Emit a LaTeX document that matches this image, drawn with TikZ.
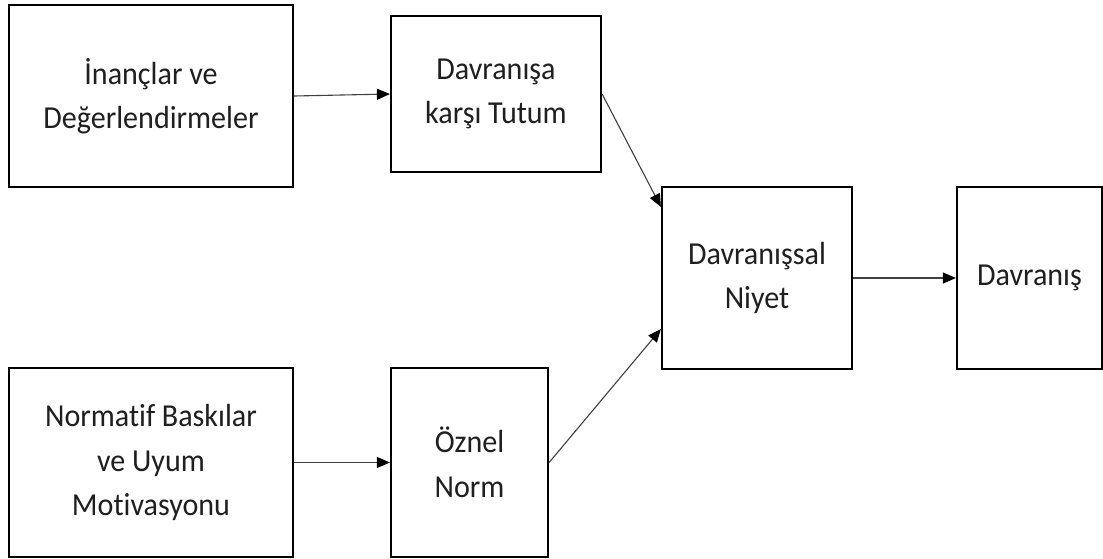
\documentclass[tikz,border=0pt]{standalone}
\usepackage{fontspec}
\setmainfont{Carlito}[Ligatures=NoCommon, FakeStretch=0.94]
\usetikzlibrary{arrows.meta,calc}
\begin{document}
\begin{tikzpicture}[x=1pt,y=-1pt,
  box/.style={draw=black, line width=2.2pt, inner sep=0pt, align=center,
    font=\fontsize{32}{44.5}\selectfont, text=black!88},
  link/.style={draw=black!75, line width=1.1pt,
    -{Triangle[length=13pt,width=11pt,color=black]}}]
\useasboundingbox (0,0) rectangle (1103,558);

% model boxes
\node[box, minimum width=284pt, minimum height=182pt] (A) at (151,96)
  {İnançlar ve\\Değerlendirmeler};
\node[box, minimum width=210pt, minimum height=156pt] (B) at (496,94)
  {Davranışa\\karşı Tutum};
\node[box, minimum width=190pt, minimum height=182pt] (C) at (757,278)
  {Davranışsal\\Niyet};
\node[box, minimum width=145pt, minimum height=182pt] (D) at (1029.5,278)
  {Davranış};
\node[box, minimum width=284pt, minimum height=189pt] (E) at (151,462.5)
  {Normatif Baskılar\\ve Uyum\\Motivasyonu};
\node[box, minimum width=157pt, minimum height=189pt] (F) at (469.5,462.5)
  {Öznel\\Norm};

% entry points on the intention box
\coordinate (Cin1) at ($(C.north west)+(0,21)$);
\coordinate (Cin2) at ($(C.south west)+(0,-41)$);

% connectors
\draw[link] (A.east) -- (B.west);
\draw[link] (B.east) -- (Cin1);
\draw[link] (E.east) -- (F.west);
\draw[link] (F.east) -- (Cin2);
\draw[link] (C.east) -- (D.west);
\end{tikzpicture}
\end{document}
